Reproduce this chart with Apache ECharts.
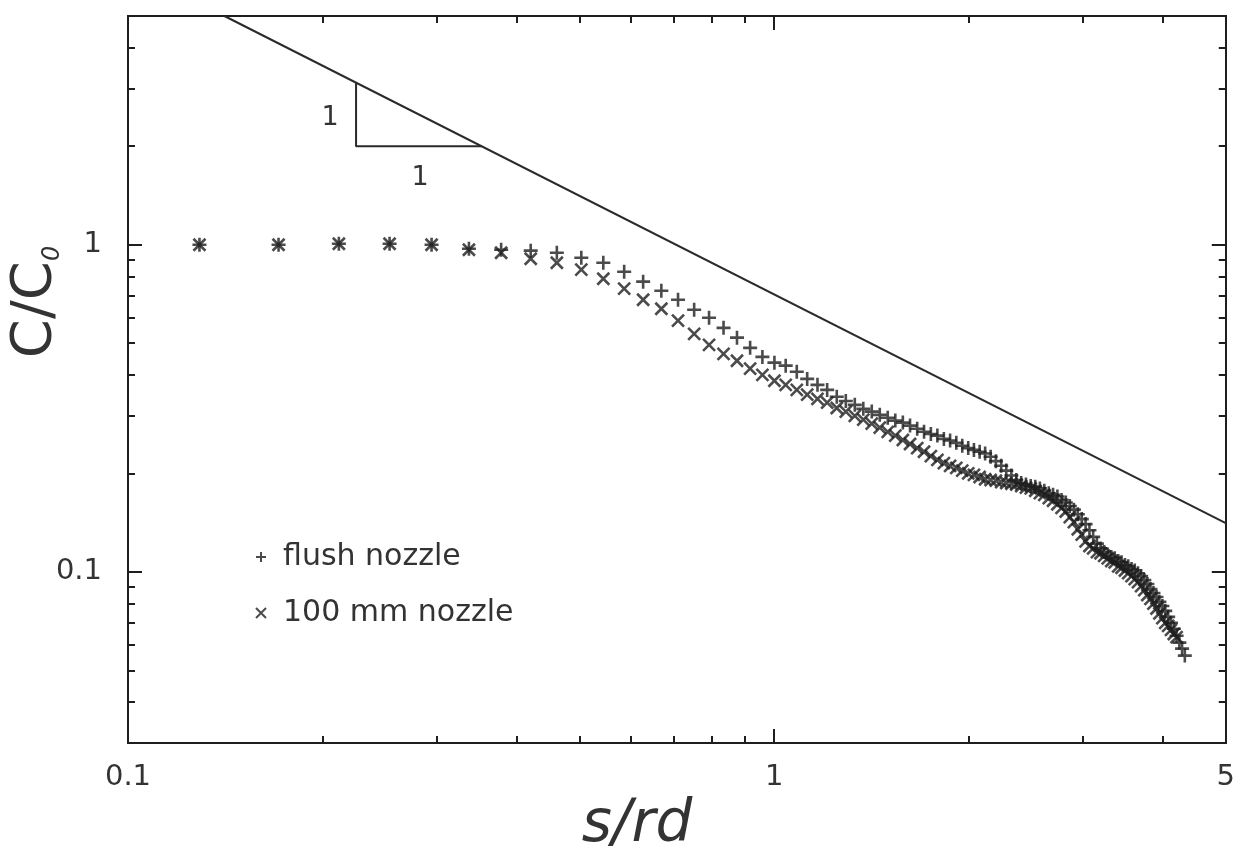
<!DOCTYPE html>
<html><head><meta charset="utf-8">
<script src="https://cdn.jsdelivr.net/npm/echarts@6/dist/echarts.min.js"></script>
<style>html,body{margin:0;padding:0;background:#fff}#c{width:1238px;height:852px}</style>
</head><body><div id="c"></div>
<script>
// s/rd values (shared by both series)
const sValues = [0.129,0.171,0.212,0.254,0.295,0.337,0.378,0.420,0.461,0.503,
0.544,0.586,0.627,0.669,0.710,0.752,0.793,0.835,0.876,0.918,
0.959,1.001,1.042,1.084,1.125,1.167,1.208,1.250,1.291,1.333,
1.374,1.416,1.457,1.499,1.540,1.582,1.623,1.665,1.706,1.748,
1.789,1.831,1.872,1.914,1.955,1.997,2.038,2.080,2.121,2.163,
2.204,2.246,2.287,2.329,2.370,2.412,2.453,2.495,2.536,2.578,
2.619,2.661,2.702,2.744,2.785,2.827,2.868,2.910,2.951,2.993,
3.034,3.076,3.117,3.159,3.200,3.242,3.283,3.325,3.366,3.408,
3.449,3.491,3.532,3.574,3.615,3.657,3.698,3.740,3.781,3.823,
3.864,3.906,3.947,3.989,4.030,4.072,4.113,4.155,4.196,4.238,
4.279,4.321];
// C/C0, flush nozzle
const cFlush = [1.000,1.000,1.007,1.007,1.000,0.972,0.965,0.959,0.945,0.912,
0.881,0.827,0.771,0.723,0.679,0.633,0.598,0.557,0.520,0.484,
0.454,0.436,0.427,0.409,0.389,0.373,0.360,0.343,0.333,0.324,
0.315,0.309,0.302,0.296,0.290,0.286,0.280,0.274,0.268,0.264,
0.261,0.255,0.252,0.248,0.243,0.239,0.236,0.233,0.230,0.225,
0.218,0.211,0.204,0.197,0.191,0.187,0.185,0.183,0.182,0.180,
0.177,0.174,0.172,0.170,0.166,0.163,0.159,0.155,0.150,0.145,
0.140,0.134,0.128,0.122,0.118,0.115,0.113,0.111,0.110,0.108,
0.107,0.105,0.104,0.102,0.101,0.0991,0.0971,0.0944,0.0918,0.0886,
0.0862,0.0838,0.0810,0.0787,0.0760,0.0729,0.0699,0.0670,0.0638,0.0608,
0.0583,0.0555];
// C/C0, 100 mm nozzle
const c100 = [1.000,1.000,1.007,1.007,1.000,0.965,0.945,0.906,0.881,0.839,
0.787,0.734,0.679,0.637,0.586,0.534,0.494,0.464,0.442,0.418,
0.400,0.384,0.373,0.360,0.348,0.338,0.329,0.317,0.309,0.300,
0.292,0.284,0.276,0.268,0.261,0.253,0.246,0.239,0.233,0.226,
0.220,0.215,0.211,0.208,0.204,0.200,0.198,0.195,0.192,0.191,
0.190,0.188,0.187,0.186,0.185,0.183,0.181,0.180,0.177,0.174,
0.172,0.168,0.165,0.161,0.157,0.153,0.147,0.142,0.135,0.130,
0.124,0.120,0.118,0.115,0.114,0.112,0.110,0.108,0.107,0.104,
0.103,0.101,0.0991,0.0971,0.0951,0.0931,0.0905,0.0880,0.0850,0.0827,
0.0800,0.0773,0.0747,0.0722,0.0699,0.0684,0.0665,0.0646,0.0632];
// slope -1 reference line and triangle
const slopeLine = [[0.141,5],[5,0.141]];
const triangle = [[0.2254,3.128],[0.2254,2.0],[0.3525,2.0]];
// ticks
const xTickLabels = [0.1,1,5];
const xMajorTicks = [0.1,1];
const xMinorTicks = [0.2,0.3,0.4,0.5,0.6,0.7,0.8,0.9,2,3,4];
const yTickLabels = [0.1,1];
const yMajorTicks = [0.1,1];
const yMinorTicks = [0.04,0.05,0.06,0.07,0.08,0.09,0.2,0.3,0.4,0.5,0.6,0.7,0.8,0.9,2,3,4];

const FONT = 'DejaVu Sans';
const INK = '#1e1e1e';
const fmt = v => String(Math.round(v*1000)/1000);

function axis(kind, pos, ticks, len, labels) {
  const o = {
    type:'log', logBase:10, position:pos,
    min: kind==='x' ? 0.1 : 0.03, max: 5,
    axisLine:{show:true,onZero:false,lineStyle:{color:INK,width:2}},
    axisTick:{show:true,inside:true,length:len,customValues:ticks,lineStyle:{color:INK,width:2}},
    axisLabel:{show:!!labels},
    splitLine:{show:false}, minorTick:{show:false}, minorSplitLine:{show:false}
  };
  if (labels) {
    o.axisLabel = {show:true, customValues:labels, formatter:fmt,
      fontFamily:FONT, fontSize:29, color:'#333', margin: kind==='x'?20:26};
  }
  return o;
}

const plusPath = 'path://M0,6H12M6,0V12';
const crossPath = 'path://M0,0L10,10M10,0L0,10';

const chart = echarts.init(document.getElementById('c'), null, {renderer:'canvas'});
chart.setOption({
  animation:false,
  backgroundColor:'#fff',
  grid:{left:128, right:7, top:16, bottom:109, containLabel:false},
  xAxis:[
    axis('x','bottom',xMajorTicks,14,xTickLabels),
    axis('x','bottom',xMinorTicks,7,null),
    axis('x','top',xMajorTicks,14,null),
    axis('x','top',xMinorTicks,7,null)
  ],
  yAxis:[
    axis('y','left',yMajorTicks,14,yTickLabels),
    axis('y','left',yMinorTicks,7,null),
    axis('y','right',yMajorTicks,14,null),
    axis('y','right',yMinorTicks,7,null)
  ],
  legend:{
    orient:'vertical', left:250, top:536, itemWidth:10, itemHeight:10, itemGap:24,
    textStyle:{fontFamily:FONT, fontSize:30, color:'#333', padding:[0,0,0,12], lineHeight:32},
    data:[{name:'flush nozzle', icon:plusPath},{name:'100 mm nozzle', icon:crossPath}]
  },
  graphic:[
    {type:'text', x:637, y:826, style:{text:'s/rd', fontFamily:FONT, fontSize:58, fontStyle:'italic', fill:'#333', align:'center', verticalAlign:'middle'}},
    {type:'text', x:35, y:302, rotation:Math.PI/2, style:{
      text:'{a|C/C}{b|0}', align:'center', verticalAlign:'middle', fill:'#333',
      rich:{a:{fontFamily:FONT, fontSize:56, fill:'#333', lineHeight:60},
            b:{fontFamily:FONT, fontSize:24, fontStyle:'italic', fill:'#333', verticalAlign:'bottom', lineHeight:24}}}},
    {type:'text', x:330, y:118, style:{text:'1', fontFamily:FONT, fontSize:27, fill:'#333', align:'center', verticalAlign:'middle'}},
    {type:'text', x:420, y:178, style:{text:'1', fontFamily:FONT, fontSize:27, fill:'#333', align:'center', verticalAlign:'middle'}}
  ],
  series:[
    {type:'line', name:'slope', data:slopeLine, symbol:'none', lineStyle:{color:'#2a2a2a',width:2}, silent:true, z:1},
    {type:'line', name:'triangle', data:triangle, symbol:'none', lineStyle:{color:'#2a2a2a',width:2}, silent:true, z:1},
    {type:'scatter', name:'100 mm nozzle', symbol:crossPath, symbolSize:12,
      itemStyle:{color:INK, borderColor:INK, borderWidth:2.6},
      data:c100.map((c,i)=>[sValues[i],c]), z:3},
    {type:'scatter', name:'flush nozzle', symbol:plusPath, symbolSize:14,
      itemStyle:{color:INK, borderColor:INK, borderWidth:2.6},
      data:cFlush.map((c,i)=>[sValues[i],c]), z:4}
  ]
});
</script></body></html>
